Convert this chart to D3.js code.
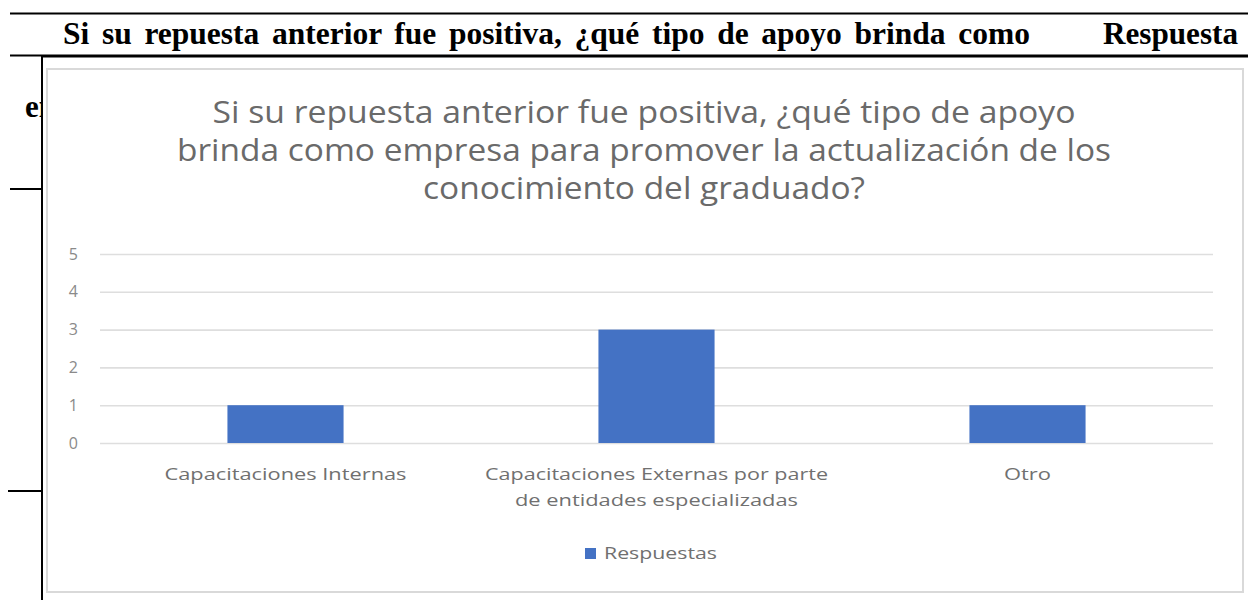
<!DOCTYPE html>
<html>
<head>
<meta charset="utf-8">
<script src="https://cdn.jsdelivr.net/npm/d3@7"></script>
<style>
  html, body { margin: 0; padding: 0; background: #fff; }
  svg { display: block; }
</style>
</head>
<body>
<svg id="page" width="1248" height="600"></svg>
<script>
// Survey question and answers
const questionHeader = "Si su repuesta anterior fue positiva, ¿qué tipo de apoyo brinda como";
const questionHeaderNext = "em";
const answerHeader = "Respuesta";
const titleLines = [
  "Si su repuesta anterior fue positiva, ¿qué  tipo de apoyo",
  "brinda como empresa para promover la actualización de los",
  "conocimiento del graduado?"
];
const categories = [
  "Capacitaciones Internas",
  "Capacitaciones Externas por parte de entidades especializadas",
  "Otro"
];
const categoryLines = [
  ["Capacitaciones Internas"],
  ["Capacitaciones Externas por parte", "de entidades especializadas"],
  ["Otro"]
];
const respuestas = [1, 3, 1];
const yTicks = [0, 1, 2, 3, 4, 5];
const seriesName = "Respuestas";

const svg = d3.select("#page");
const serif = "'Liberation Serif', 'Times New Roman', serif";
const sans = "'Open Sans', 'Liberation Sans', sans-serif";
const barColor = "#4472C4";
const textGrey = "#666666";

// Spread the words of a text so it spans the given width (justified line)
function justify(sel, width) {
  const node = sel.node();
  const natural = node.getComputedTextLength();
  const gaps = (sel.text().match(/ /g) || []).length;
  if (gaps > 0) sel.attr("word-spacing", (width - natural) / gaps);
}

// Table of the surrounding document
svg.append("text")
  .attr("x", 25).attr("y", 117)
  .attr("font-family", serif).attr("font-weight", "bold").attr("font-size", 31)
  .attr("fill", "#000")
  .text(questionHeaderNext);

const header = svg.append("text")
  .attr("x", 63).attr("y", 44)
  .attr("font-family", serif).attr("font-weight", "bold").attr("font-size", 31.5)
  .attr("fill", "#000")
  .text(questionHeader);
justify(header, 967);

svg.append("text")
  .attr("x", 1103).attr("y", 44)
  .attr("font-family", serif).attr("font-weight", "bold").attr("font-size", 31.5)
  .attr("textLength", 135).attr("lengthAdjust", "spacingAndGlyphs")
  .attr("fill", "#000")
  .text(answerHeader);

const rule = (x1, y1, x2, y2) => svg.append("line")
  .attr("x1", x1).attr("y1", y1).attr("x2", x2).attr("y2", y2)
  .attr("stroke", "#000").attr("stroke-width", 2);
rule(10, 13.5, 1248, 13.5);
rule(10, 55.5, 1248, 55.5);
rule(10, 189, 60, 189);
rule(8, 491, 60, 491);

// Chart frame: black outline of the pasted picture, then the chart area border
svg.append("rect")
  .attr("x", 42).attr("y", 56.5).attr("width", 1220).attr("height", 560)
  .attr("fill", "#fff").attr("stroke", "#000").attr("stroke-width", 2);

svg.append("rect")
  .attr("x", 47).attr("y", 69).attr("width", 1196).attr("height", 523)
  .attr("fill", "#fff").attr("stroke", "#d9d9d9").attr("stroke-width", 2);

// Title
const titleWidths = [863, 934, 442];
svg.append("g").selectAll("text")
  .data(titleLines)
  .join("text")
  .attr("x", 644)
  .attr("y", (d, i) => 123 + i * 38)
  .attr("text-anchor", "middle")
  .attr("font-family", sans).attr("font-size", 31)
  .attr("fill", "#6a6a6a")
  .attr("textLength", (d, i) => titleWidths[i]).attr("lengthAdjust", "spacingAndGlyphs")
  .text(d => d);

// Scales
const plot = { left: 100, right: 1213, top: 254, bottom: 443 };
const x = d3.scaleBand()
  .domain(categories)
  .range([plot.left, plot.right])
  .paddingInner(0.687)
  .paddingOuter(0.3435);
const y = d3.scaleLinear()
  .domain([0, d3.max(yTicks)])
  .range([plot.bottom, plot.top]);

// Gridlines and value labels
const yAxis = d3.axisLeft(y)
  .tickValues(yTicks)
  .tickSize(-(plot.right - plot.left))
  .tickPadding(22)
  .tickFormat(d3.format("d"));
const gy = svg.append("g")
  .attr("transform", `translate(${plot.left},0)`)
  .call(yAxis);
gy.select(".domain").remove();
gy.selectAll(".tick line").attr("stroke", "#dedede").attr("stroke-width", 1.6);
gy.selectAll(".tick text")
  .attr("font-family", sans).attr("font-size", 16)
  .attr("fill", "#8a8a8a");

// Bars
svg.append("g").selectAll("rect")
  .data(respuestas)
  .join("rect")
  .attr("x", (d, i) => x(categories[i]))
  .attr("y", d => y(d))
  .attr("width", x.bandwidth())
  .attr("height", d => y(0) - y(d))
  .attr("fill", barColor);

// Category labels
const labelWidths = [[242], [343, 283], [47]];
const gx = svg.append("g");
categoryLines.forEach((lines, i) => {
  gx.selectAll(null)
    .data(lines)
    .join("text")
    .attr("x", x(categories[i]) + x.bandwidth() / 2)
    .attr("y", (d, j) => 480 + j * 26)
    .attr("text-anchor", "middle")
    .attr("font-family", sans).attr("font-size", 16.5)
    .attr("fill", "#707070")
    .attr("textLength", (d, j) => labelWidths[i][j]).attr("lengthAdjust", "spacingAndGlyphs")
    .text(d => d);
});

// Legend
const legend = svg.append("g");
legend.append("rect")
  .attr("x", 585).attr("y", 548).attr("width", 11).attr("height", 11)
  .attr("fill", barColor);
legend.append("text")
  .attr("x", 604).attr("y", 559)
  .attr("font-family", sans).attr("font-size", 16.5)
  .attr("fill", "#707070")
  .attr("textLength", 113).attr("lengthAdjust", "spacingAndGlyphs")
  .text(seriesName);
</script>
</body>
</html>
